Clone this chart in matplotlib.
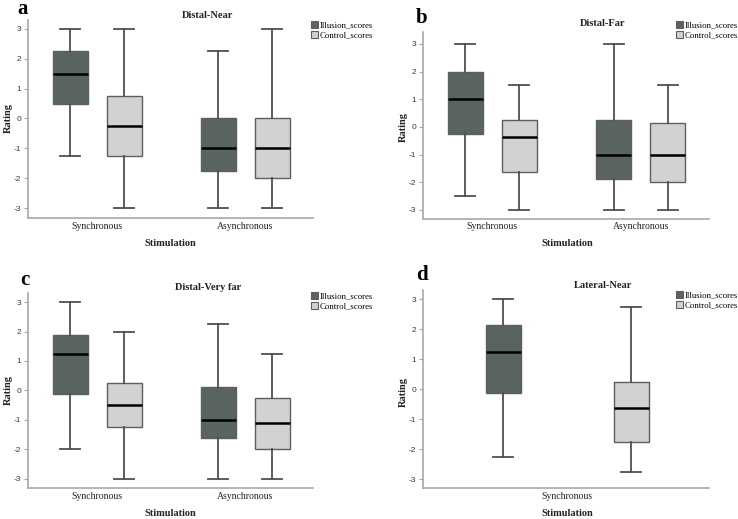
import matplotlib
matplotlib.use("Agg")
import matplotlib.pyplot as plt
from matplotlib.patches import Patch

# ---------------- data ----------------
series = ["Illusion_scores", "Control_scores"]
categories_abc = ["Synchronous", "Asynchronous"]
categories_d = ["Synchronous"]

# each box: (whislo, q1, med, q3, whishi)
a_illusion = [(-1.25, 0.5, 1.5, 2.25, 3.0), (-3.0, -1.75, -1.0, 0.0, 2.25)]
a_control = [(-3.0, -1.25, -0.25, 0.75, 3.0), (-3.0, -2.0, -1.0, 0.0, 3.0)]

b_illusion = [(-2.5, -0.25, 1.0, 2.0, 3.0), (-3.0, -1.875, -1.0, 0.25, 3.0)]
b_control = [(-3.0, -1.625, -0.375, 0.25, 1.5), (-3.0, -2.0, -1.0, 0.125, 1.5)]

c_illusion = [(-2.0, -0.125, 1.25, 1.875, 3.0), (-3.0, -1.625, -1.0, 0.125, 2.25)]
c_control = [(-3.0, -1.25, -0.5, 0.25, 2.0), (-3.0, -2.0, -1.125, -0.25, 1.25)]

d_illusion = [(-2.25, -0.125, 1.25, 2.125, 3.0)]
d_control = [(-2.75, -1.75, -0.625, 0.25, 2.75)]

titles = ["Distal-Near", "Distal-Far", "Distal-Very far", "Lateral-Near"]
letters = ["a", "b", "c", "d"]
yticks = [-3, -2, -1, 0, 1, 2, 3]

# ---------------- style ----------------
C_ILL = "#59645e"
C_CTL = "#d2d2d2"
EDGE = "#5e5e5e"
WHISK = "#4f4f4f"
SPINE = "#a8a8a8"
SERIF = "Liberation Serif"
SANS = "Liberation Sans"

W, H = 738, 519
fig = plt.figure(figsize=(W / 100, H / 100), dpi=100)


def fx(px):
    return px / W


def fy(py):
    return 1 - py / H


def stats(t):
    lo, q1, med, q3, hi = t
    return dict(whislo=lo, q1=q1, med=med, q3=q3, whishi=hi, fliers=[])


def draw_boxes(ax, data, positions, color, width, capw):
    ax.bxp([stats(t) for t in data], positions=positions, widths=width,
           capwidths=capw, patch_artist=True, showfliers=False,
           boxprops=dict(facecolor=color, edgecolor=EDGE, linewidth=1.0),
           whiskerprops=dict(color=WHISK, linewidth=1.3),
           capprops=dict(color=WHISK, linewidth=1.3),
           medianprops=dict(color="black", linewidth=1.8))


panels = [
    dict(box=(28, 313, 20, 218), ylim=(-3.335, 3.30), ill=a_illusion, ctl=a_control,
         cats=categories_abc, letter=(23, 9), title=(208, 16), leg=(311, 21),
         rating=(8, 118), stim=(170, 243), caty=227),
    dict(box=(423, 709, 32, 219), ylim=(-3.33, 3.43), ill=b_illusion, ctl=b_control,
         cats=categories_abc, letter=(422, 18), title=(603, 23), leg=(676, 21),
         rating=(403, 127), stim=(567, 243), caty=227),
    dict(box=(28, 313, 293, 488), ylim=(-3.32, 3.31), ill=c_illusion, ctl=c_control,
         cats=categories_abc, letter=(25, 280), title=(208, 287), leg=(311, 292),
         rating=(8, 390), stim=(170, 513), caty=497),
    dict(box=(423, 709, 290, 488), ylim=(-3.30, 3.31), ill=d_illusion, ctl=d_control,
         cats=categories_d, letter=(422, 275), title=(603, 285), leg=(676, 291),
         rating=(403, 392), stim=(567, 513), caty=497),
]

for i, p in enumerate(panels):
    l, r, t, b = p["box"]
    ax = fig.add_axes([fx(l), fy(b), fx(r) - fx(l), fy(t) - fy(b)])
    n = len(p["cats"])
    if n == 2:
        cpos = [0, 1]
        off, width, capw = 27 / 148, 35 / 148, 20 / 148
        ax.set_xlim(-69 / 148, 216 / 148)
    else:
        cpos = [0]
        off, width, capw = 0.5, 35 / 128, 20 / 128
        ax.set_xlim(-144 / 128, 142 / 128)
    draw_boxes(ax, p["ill"], [c - off for c in cpos], C_ILL, width, capw)
    draw_boxes(ax, p["ctl"], [c + off for c in cpos], C_CTL, width, capw)
    ax.set_ylim(*p["ylim"])
    ax.set_yticks(yticks)
    ax.set_yticklabels([str(v) for v in yticks], fontsize=6, family=SANS, color="#3a3a3a")
    ax.set_xticks(cpos)
    ax.set_xticklabels(p["cats"], fontsize=7, family=SERIF, color="#222222")
    ax.tick_params(axis="y", length=3, width=0.8, color=SPINE, pad=2)
    ax.tick_params(axis="x", length=0, pad=(p["caty"] - b - 5) * 0.72)
    for s in ["top", "right"]:
        ax.spines[s].set_visible(False)
    for s in ["left", "bottom"]:
        ax.spines[s].set_color(SPINE)
        ax.spines[s].set_linewidth(1.2)

    fig.text(fx(p["title"][0]), fy(p["title"][1]), titles[i], ha="center", va="center",
             fontsize=7.5, family=SERIF, fontweight="bold", color="#222222")
    fig.text(fx(p["letter"][0]), fy(p["letter"][1]), letters[i], ha="center", va="center",
             fontsize=15, family=SERIF, fontweight="bold", color="black")
    fig.text(fx(p["rating"][0]), fy(p["rating"][1]), "Rating", ha="center", va="center",
             rotation=90, fontsize=7.5, family=SERIF, fontweight="bold", color="#222222")
    fig.text(fx(p["stim"][0]), fy(p["stim"][1]), "Stimulation", ha="center", va="center",
             fontsize=7.5, family=SERIF, fontweight="bold", color="#222222")

    handles = [Patch(facecolor=C_ILL, edgecolor=EDGE, linewidth=0.8),
               Patch(facecolor=C_CTL, edgecolor=EDGE, linewidth=0.8)]
    fig.legend(handles, series, loc="upper left",
               bbox_to_anchor=(fx(p["leg"][0]), fy(p["leg"][1])),
               frameon=False, prop=dict(family=SERIF, size=6.3),
               handlelength=0.8, handleheight=0.9, handletextpad=0.2,
               labelspacing=0.1, borderpad=0, borderaxespad=0)

fig.savefig("out.png", dpi=100, facecolor="white")
